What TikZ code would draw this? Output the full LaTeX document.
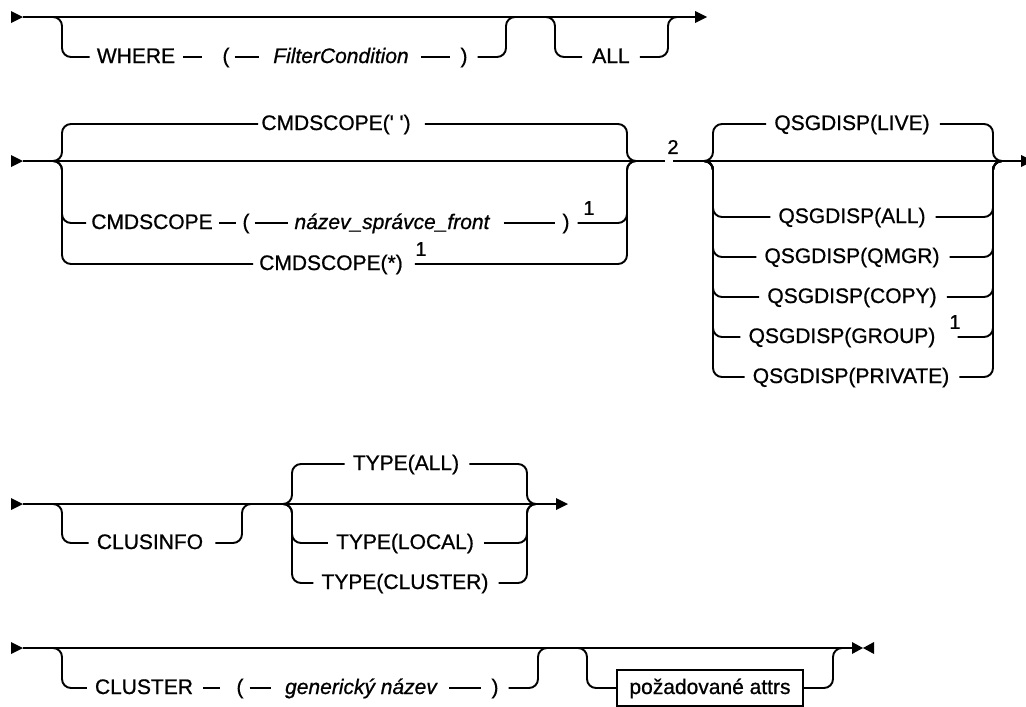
\documentclass[tikz,border=0pt]{standalone}
\usepackage{fontspec}
\setmainfont{Liberation Sans}[FakeBold=0.8]
\usetikzlibrary{calc}
\tikzset{
  ln/.style={line width=1.9pt},
  br/.style={ln, rounded corners=9pt},
  lbl/.style={font=\fontsize{21}{23}\selectfont, inner sep=0pt, text height=15pt, text depth=3pt},
  fn/.style={font=\fontsize{20}{22}\selectfont, inner sep=0pt},
  boxn/.style={lbl, draw, line width=1.9pt, minimum width=186pt, minimum height=36pt},
}
\newcommand{\gapline}[4]{\draw[ln] ([xshift=#2]#1.east) -- ([xshift=-#4]#3.west);}
\begin{document}
\begin{tikzpicture}[x=1pt,y=-1pt]
\useasboundingbox (0,0) rectangle (1026,707);

% ---------------- Row 1 ----------------
\fill (11,11) -- (23,17) -- (11,23) -- cycle;
\coordinate (r1s) at (23,17);
\coordinate (r1e) at (695,17);
\draw[ln] (r1s) -- (r1e);
\fill (695,11) -- (707,17) -- (695,23) -- cycle;
\node[lbl] (where) at (136,57) {WHERE};
\node[lbl] (lpa) at (226,57) {(};
\node[lbl] (fca) at (341,57) {\itshape FilterCondition};
\node[lbl] (rpa) at (464,57) {)};
\node[lbl] (alla) at (611,57) {ALL};
\draw[br] (50,17) -| (62,57) -- ([xshift=-7]where.west);
\gapline{where}{8}{lpa}{20}
\gapline{lpa}{5}{fca}{14}
\gapline{fca}{12}{rpa}{10}
\draw[br] ([xshift=10]rpa.east) -| (506,17) -- (516,17);
\draw[br] (545,17) -| (555,57) -- ([xshift=-10]alla.west);
\draw[br] ([xshift=10]alla.east) -| (668,17) -- (678,17);

% ---------------- Row 2 ----------------
\fill (11,155) -- (23,161) -- (11,167) -- cycle;
\draw[ln] (23,161) -- (665,161);
\draw[ln] (673,161) -- (1021,161);
\fill (1021,155) -- (1033,161) -- (1021,167) -- cycle;
\node[fn] (n2) at (673,147) {2};

\node[lbl] (c1) at (336,124) {CMDSCOPE(\textquotesingle\ \textquotesingle)};
\draw[br] (52,161) -| (62,124) -- ([xshift=-3]c1.west);
\draw[br] ([xshift=14]c1.east) -| (627,161) -- (637,161);

\node[lbl] (c2) at (152,223) {CMDSCOPE};
\node[lbl] (lpb) at (246,223) {(};
\node[lbl] (qm) at (392,223) {\itshape název\_správce\_front};
\node[lbl] (rpb) at (566,223) {)};
\node[fn] (f1a) at (589,208) {1};
\draw[br] (52,161) -| (62,223) -- ([xshift=-5]c2.west);
\gapline{c2}{6}{lpb}{6}
\gapline{lpb}{5}{qm}{6}
\gapline{qm}{14}{rpb}{7}
\draw[br] ([xshift=8]rpb.east) -| (627,161) -- (637,161);

\node[lbl] (c3) at (331,264) {CMDSCOPE(*)};
\node[fn] (f1b) at (421,249) {1};
\draw[br] (52,161) -| (62,264) -- ([xshift=-6]c3.west);
\draw[br] ([xshift=12]c3.east) -| (627,161) -- (637,161);

\node[lbl] (q1) at (852,124) {QSGDISP(LIVE)};
\node[lbl] (q2) at (852,217) {QSGDISP(ALL)};
\node[lbl] (q3) at (852,257) {QSGDISP(QMGR)};
\node[lbl] (q4) at (852,297) {QSGDISP(COPY)};
\node[lbl] (q5) at (842,337) {QSGDISP(GROUP)};
\node[fn] (f1c) at (955,322) {1};
\node[lbl] (q6) at (851,377) {QSGDISP(PRIVATE)};
\foreach \n in {q1,q2,q3,q4,q6}{
  \draw[br] (703,161) -| (713,0 |- \n.west) -- ([xshift=-8]\n.west);
  \draw[br] ([xshift=10]\n.east) -| (993,161) -- (1003,161);
}
\draw[br] (703,161) -| (713,0 |- q5.west) -- ([xshift=-8]q5.west);
\draw[br] ([xshift=22]q5.east) -| (993,161) -- (1003,161);

% ---------------- Row 3 ----------------
\fill (11,498) -- (23,504) -- (11,510) -- cycle;
\draw[ln] (23,504) -- (556,504);
\fill (556,498) -- (568,504) -- (556,510) -- cycle;
\node[lbl] (ci) at (150,543) {CLUSINFO};
\draw[br] (50,504) -| (62,543) -- ([xshift=-8]ci.west);
\draw[br] ([xshift=12]ci.east) -| (242,504) -- (252,504);
\node[lbl] (t1) at (406,464) {TYPE(ALL)};
\node[lbl] (t2) at (405,543) {TYPE(LOCAL)};
\node[lbl] (t3) at (405,583) {TYPE(CLUSTER)};
\foreach \n in {t1,t2,t3}{
  \draw[br] (282,504) -| (292,0 |- \n.west) -- ([xshift=-8]\n.west);
  \draw[br] ([xshift=10]\n.east) -| (527,504) -- (537,504);
}

% ---------------- Row 4 ----------------
\fill (11,642) -- (23,648) -- (11,654) -- cycle;
\draw[ln] (23,648) -- (852,648);
\fill (852,642) -- (863,648) -- (852,654) -- cycle;
\fill (874,642) -- (863,648) -- (874,654) -- cycle;
\node[lbl] (cl) at (144,688) {CLUSTER};
\node[lbl] (lpd) at (240,688) {(};
\node[lbl] (gn) at (361,688) {\itshape generický název};
\node[lbl] (rpd) at (495,688) {)};
\draw[br] (50,648) -| (62,688) -- ([xshift=-8]cl.west);
\gapline{cl}{10}{lpd}{16}
\gapline{lpd}{6}{gn}{14}
\gapline{gn}{12}{rpd}{10}
\draw[br] ([xshift=10]rpd.east) -| (538,648) -- (548,648);
\node[boxn] (bx) at (710,688) {požadované attrs};
\draw[br] (577,648) -| (587,688) -- (bx.west);
\draw[br] (bx.east) -| (833,648) -- (843,648);
\end{tikzpicture}
\end{document}
